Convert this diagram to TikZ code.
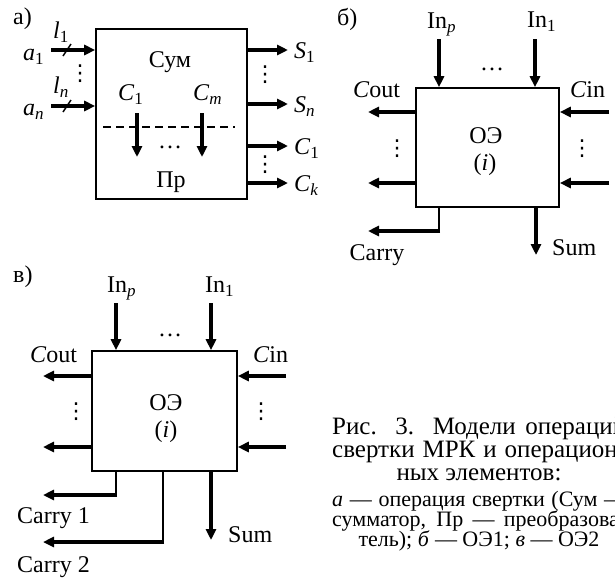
\documentclass[tikz,border=0pt]{standalone}
\usepackage{fontspec}
\setmainfont{Liberation Serif}
\newfontfamily\dejavu{DejaVu Sans}
\usetikzlibrary{arrows.meta}
\newcommand\subx[1]{\raisebox{-4pt}{\fontsize{17}{17}\selectfont #1}}
\newcommand\vdotsx{{\dejavu\fontsize{22}{22}\selectfont ⋮}}
\begin{document}
\begin{tikzpicture}[x=1pt,y=-1pt, font=\fontsize{24}{28}\selectfont,
  lbl/.style={inner sep=0pt, anchor=base},
  lblw/.style={inner sep=0pt, anchor=base west},
  box/.style={draw, line width=1.6pt, inner sep=0pt},
  arr/.style={line width=3.2pt, -{Triangle[length=11pt,width=10pt]}},
  thinln/.style={line width=2pt},
  slashln/.style={line width=1.4pt},
  dashln/.style={line width=2.6pt, dash pattern=on 8pt off 5pt},
  vd/.style={inner sep=0pt},
  captA/.style={font=\fontsize{25}{25}\selectfont},
  captB/.style={font=\fontsize{22}{22}\selectfont}]
\useasboundingbox (0,0) rectangle (615,579);
\clip (0,0) rectangle (615,579);

% ---------- panel a ----------
\node[box, minimum width=151pt, minimum height=170pt] (A) at (171.5,114) {};
\node[lblw] (la) at (13,24) {а)};
\coordinate (a1s) at (51,50);
\coordinate (ans) at (51,106);
\draw[arr] (a1s) -- (a1s -| A.west);
\draw[arr] (ans) -- (ans -| A.west);
\draw[slashln] (63,56) -- (71,44);
\draw[slashln] (63,112) -- (71,100);
\node[lblw] (l1) at (53,38) {\textit{l}\subx{1}};
\node[lblw] (a1) at (23,60) {\textit{a}\subx{1}};
\node[lblw] (ln) at (53,93) {\textit{l}\subx{\textit{n}}};
\node[lblw] (an) at (23,115) {\textit{a}\subx{\textit{n}}};
\node[vd] (va) at (80,74) {\vdotsx};
\node[lbl] (sum) at (170,67) {Сум};
\node[lblw] (c1) at (118,100) {\textit{C}\subx{1}};
\node[lblw] (cm) at (193,100) {\textit{C}\subx{\textit{m}}};
\coordinate (dl) at (103,127);
\coordinate (dr) at (235,127);
\draw[dashln] (dl) -- (dr);
\coordinate (c1a) at (137,113); \coordinate (c1b) at (137,157);
\coordinate (cma) at (202,113); \coordinate (cmb) at (202,157);
\draw[arr] (c1a) -- (c1b);
\draw[arr] (cma) -- (cmb);
\node[lbl] (dotsa) at (170,148) {\ldots};
\node[lbl] (pr) at (171,187) {Пр};
\coordinate (o1) at (288,50);
\coordinate (o2) at (288,104);
\coordinate (o3) at (288,146);
\coordinate (o4) at (288,183);
\draw[arr] (o1 -| A.east) -- (o1);
\draw[arr] (o2 -| A.east) -- (o2);
\draw[arr] (o3 -| A.east) -- (o3);
\draw[arr] (o4 -| A.east) -- (o4);
\node[lblw] (s1) at (294,58) {\textit{S}\subx{1}};
\node[lblw] (sn) at (294,112) {\textit{S}\subx{\textit{n}}};
\node[lblw] (k1) at (294,154) {\textit{C}\subx{1}};
\node[lblw] (kk) at (294,191) {\textit{C}\subx{\textit{k}}};
\node[vd] (vb) at (265,75) {\vdotsx};
\node[vd] (vc) at (265,165) {\vdotsx};

% ---------- panel b ----------
\node[box, minimum width=143pt, minimum height=119pt] (B) at (487.5,147.5) {};
\node[lblw] (lb) at (337,25) {б)};
\coordinate (bip) at (439,39);
\coordinate (bi1) at (535,39);
\draw[arr] (bip) -- (bip |- B.north);
\draw[arr] (bi1) -- (bi1 |- B.north);
\node[lblw] (binp) at (427,28) {In\subx{\textit{p}}};
\node[lblw] (bin1) at (527,27) {In\subx{1}};
\node[lbl] (bdots) at (492,70) {\ldots};
\node[lblw] (bcout) at (353,97) {\textit{C}out};
\node[lblw] (bcin) at (570,97) {\textit{C}in};
\coordinate (bl1) at (368,112);
\coordinate (bl2) at (368,183);
\coordinate (br1) at (609,112);
\coordinate (br2) at (609,183);
\draw[arr] (bl1 -| B.west) -- (bl1);
\draw[arr] (bl2 -| B.west) -- (bl2);
\draw[arr] (br1) -- (br1 -| B.east);
\draw[arr] (br2) -- (br2 -| B.east);
\node[vd] (bv1) at (397,149) {\vdotsx};
\node[vd] (bv2) at (582,149) {\vdotsx};
\node[lbl] (boe) at (486,143) {ОЭ};
\node[lbl] (bi) at (485,170) {(\textit{i})};
\coordinate (bc) at (439,231);
\coordinate (bcr) at (440,231);
\coordinate (bce) at (368,231);
\draw[thinln] (bc |- B.south) -- (bc);
\draw[arr] (bcr) -- (bce);
\node[lbl] (bcarry) at (377,260) {Carry};
\coordinate (bs) at (536,255);
\draw[arr] (bs |- B.south) -- (bs);
\node[lblw] (bsum) at (552,255) {Sum};

% ---------- panel c ----------
\node[box, minimum width=145pt, minimum height=120pt] (C) at (164.5,411) {};
\node[lblw] (lc) at (13,282) {в)};
\coordinate (cip) at (116,303);
\coordinate (ci1) at (211,303);
\draw[arr] (cip) -- (cip |- C.north);
\draw[arr] (ci1) -- (ci1 |- C.north);
\node[lblw] (cinp) at (107,292) {In\subx{\textit{p}}};
\node[lblw] (cin1) at (205,292) {In\subx{1}};
\node[lbl] (cdots) at (170,336) {\ldots};
\node[lblw] (ccout) at (30,362) {\textit{C}out};
\node[lblw] (ccin) at (253,362) {\textit{C}in};
\coordinate (cl1) at (43,376);
\coordinate (cl2) at (43,447);
\coordinate (cr1) at (286,376);
\coordinate (cr2) at (286,447);
\draw[arr] (cl1 -| C.west) -- (cl1);
\draw[arr] (cl2 -| C.west) -- (cl2);
\draw[arr] (cr1) -- (cr1 -| C.east);
\draw[arr] (cr2) -- (cr2 -| C.east);
\node[vd] (cv1) at (76,412) {\vdotsx};
\node[vd] (cv2) at (261,412) {\vdotsx};
\node[lbl] (coe) at (166,410) {ОЭ};
\node[lbl] (ci) at (166,437) {(\textit{i})};
\coordinate (k1v) at (116,495);
\coordinate (k1r) at (117,495);
\coordinate (k1e) at (43,495);
\draw[thinln] (k1v |- C.south) -- (k1v);
\draw[arr] (k1r) -- (k1e);
\coordinate (k2v) at (163,542);
\coordinate (k2r) at (164,542);
\coordinate (k2e) at (43,542);
\draw[thinln] (k2v |- C.south) -- (k2v);
\draw[arr] (k2r) -- (k2e);
\node[lblw] (ccar1) at (17,523) {Carry 1};
\node[lblw] (ccar2) at (17,572) {Carry 2};
\coordinate (cs) at (211,540);
\draw[arr] (cs |- C.south) -- (cs);
\node[lblw] (csum) at (228,542) {Sum};

% ---------- caption ----------
\node[lblw, captA] (t1) at (332,434) {\makebox[294pt][s]{Рис. 3. Модели операций}};
\node[lblw, captA] (t2) at (332,457) {\makebox[294pt][s]{свертки МРК и операцион-}};
\node[lbl, captA] (t3) at (479,480) {ных элементов:};
\node[lblw, captB] (t4) at (332,506) {\makebox[294pt][s]{\textit{а} — операция свертки (Сум —}};
\node[lblw, captB] (t5) at (332,526) {\makebox[294pt][s]{сумматор, Пр — преобразова-}};
\node[lbl, captB] (t6) at (479,546) {тель); \textit{б} — ОЭ1; \textit{в} — ОЭ2};
\end{tikzpicture}
\end{document}
